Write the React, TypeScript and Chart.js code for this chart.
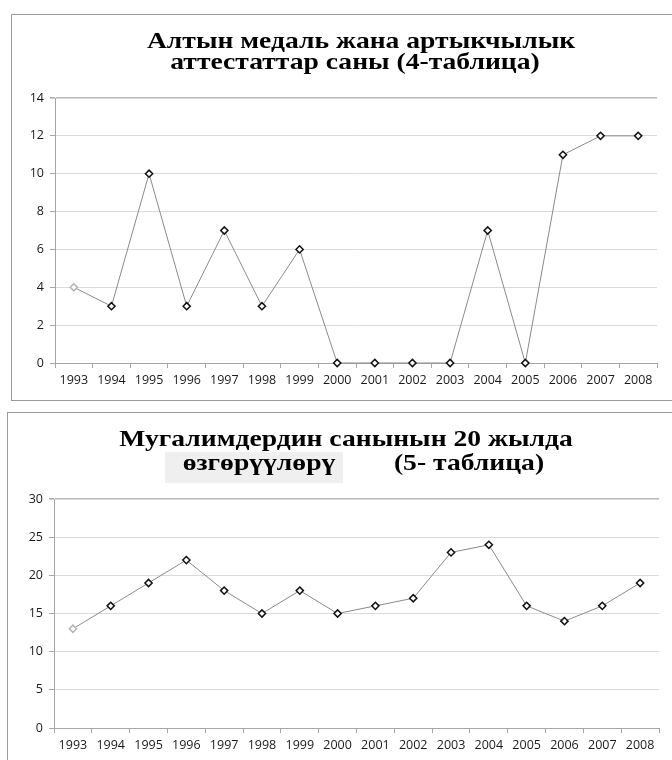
import React, { useEffect, useRef } from "react";
import { Chart, registerables } from "chart.js";

Chart.register(...registerables);

const years = ["1993", "1994", "1995", "1996", "1997", "1998", "1999", "2000", "2001", "2002", "2003", "2004", "2005", "2006", "2007", "2008"];
const medalCounts = [4, 3, 10, 3, 7, 3, 6, 0, 0, 0, 0, 7, 0, 11, 12, 12];
const teacherCounts = [13, 16, 19, 22, 18, 15, 18, 15, 16, 17, 23, 24, 16, 14, 16, 19];

const medalTitle = ["Алтын медаль жана артыкчылык", "аттестаттар саны (4-таблица)"];
const teacherTitle = ["Мугалимдердин санынын 20 жылда", "өзгөрүүлөрү", "(5- таблица)"];

const TITLE_FONT = "bold 23px 'Liberation Serif', 'Times New Roman', serif";
const TITLE_STRETCH = 1.2;
const TICK_FONT = { family: "'Open Sans', sans-serif", size: 12.5 };

type TitlePiece = { text: string; x: number; y: number };
type Highlight = { x: number; y: number; w: number; h: number; color: string };

const titlePlugin = {
  id: "titleLines",
  afterDraw(chart: any, _args: any, opts: any) {
    const ctx = chart.ctx as CanvasRenderingContext2D;
    ctx.save();
    const hl: Highlight | undefined = opts.highlight;
    if (hl) {
      ctx.fillStyle = hl.color;
      ctx.fillRect(hl.x, hl.y, hl.w, hl.h);
    }
    ctx.font = TITLE_FONT;
    ctx.fillStyle = "#000";
    ctx.textAlign = "center";
    ctx.textBaseline = "alphabetic";
    (opts.pieces as TitlePiece[]).forEach((p) => {
      ctx.save();
      ctx.translate(p.x, p.y);
      ctx.scale(TITLE_STRETCH, 1);
      ctx.fillText(p.text, 0, 0);
      ctx.restore();
    });
    ctx.restore();
  },
};

type ChartProps = {
  width: number;
  height: number;
  data: number[];
  yMax: number;
  yStep: number;
  pad: { top: number; right: number };
  yWidth: number;
  xHeight: number;
  pieces: TitlePiece[];
  highlight?: Highlight;
};

function LineChart(props: ChartProps) {
  const ref = useRef<HTMLCanvasElement | null>(null);
  useEffect(() => {
    if (!ref.current) return;
    const chart = new Chart(ref.current, {
      type: "line",
      data: {
        labels: years,
        datasets: [
          {
            data: props.data,
            borderColor: "#8a8a8a",
            borderWidth: 1,
            pointStyle: "rectRot",
            pointRadius: 3.6,
            pointBorderWidth: 1.5,
            pointBackgroundColor: "#ffffff",
            pointBorderColor: (c: any) => (c.dataIndex === 0 ? "#b5b5b5" : "#111111"),
            tension: 0,
            clip: false as any,
          },
        ],
      },
      options: {
        animation: false,
        responsive: false,
        devicePixelRatio: 1,
        layout: { padding: { top: props.pad.top, right: props.pad.right, left: 0, bottom: 0 } },
        plugins: {
          legend: { display: false },
          title: { display: false },
          tooltip: { enabled: false },
          titleLines: { pieces: props.pieces, highlight: props.highlight },
        } as any,
        scales: {
          x: {
            type: "category",
            offset: true,
            grid: {
              drawOnChartArea: false,
              drawTicks: true,
              tickLength: 5,
              offset: true,
              tickColor: "#a6a6a6",
            },
            border: { color: "#a6a6a6", width: 1 },
            ticks: { color: "#1a1a1a", font: TICK_FONT, padding: 5, maxRotation: 0, autoSkip: false },
            afterFit: (s: any) => {
              s.height = props.xHeight;
            },
          },
          y: {
            min: 0,
            max: props.yMax,
            ticks: { stepSize: props.yStep, color: "#1a1a1a", font: TICK_FONT, padding: 6 },
            grid: {
              color: (c: any) => (c.tick && c.tick.value === props.yMax ? "#b8b8b8" : "#dadada"),
              lineWidth: (c: any) => (c.tick && c.tick.value === props.yMax ? 1.5 : 1),
              tickLength: 5,
              tickColor: "#a6a6a6",
            },
            border: { color: "#a6a6a6", width: 1 },
            afterFit: (s: any) => {
              s.width = props.yWidth;
            },
          },
        },
      },
      plugins: [titlePlugin],
    });
    return () => chart.destroy();
  }, []);
  return (
    <canvas
      ref={ref}
      width={props.width}
      height={props.height}
      style={{ position: "absolute", left: 0, top: 0, width: props.width, height: props.height }}
    />
  );
}

export default function App() {
  return (
    <div style={{ position: "absolute", left: 0, top: 0, width: 672, height: 760, overflow: "hidden", background: "#fff" }}>
      <div
        style={{
          position: "absolute",
          left: 11,
          top: 14,
          width: 700,
          height: 385,
          borderLeft: "1px solid #9a9a9a",
          borderTop: "1px solid #9a9a9a",
          borderBottom: "1px solid #9a9a9a",
        }}
      >
        <LineChart
          width={660}
          height={385}
          data={medalCounts}
          yMax={14}
          yStep={2}
          pad={{ top: 83, right: 15 }}
          yWidth={43}
          xHeight={37}
          pieces={[
            { text: medalTitle[0], x: 349, y: 33 },
            { text: medalTitle[1], x: 343, y: 54 },
          ]}
        />
      </div>
      <div
        style={{
          position: "absolute",
          left: 7,
          top: 412,
          width: 700,
          height: 400,
          borderLeft: "1px solid #9a9a9a",
          borderTop: "1px solid #9a9a9a",
        }}
      >
        <LineChart
          width={664}
          height={360}
          data={teacherCounts}
          yMax={30}
          yStep={5}
          pad={{ top: 86, right: 13 }}
          yWidth={46}
          xHeight={45}
          pieces={[
            { text: teacherTitle[0], x: 338, y: 33 },
            { text: teacherTitle[1], x: 251, y: 57 },
            { text: teacherTitle[2], x: 461, y: 57 },
          ]}
          highlight={{ x: 157, y: 39, w: 178, h: 31, color: "#efefef" }}
        />
      </div>
    </div>
  );
}
